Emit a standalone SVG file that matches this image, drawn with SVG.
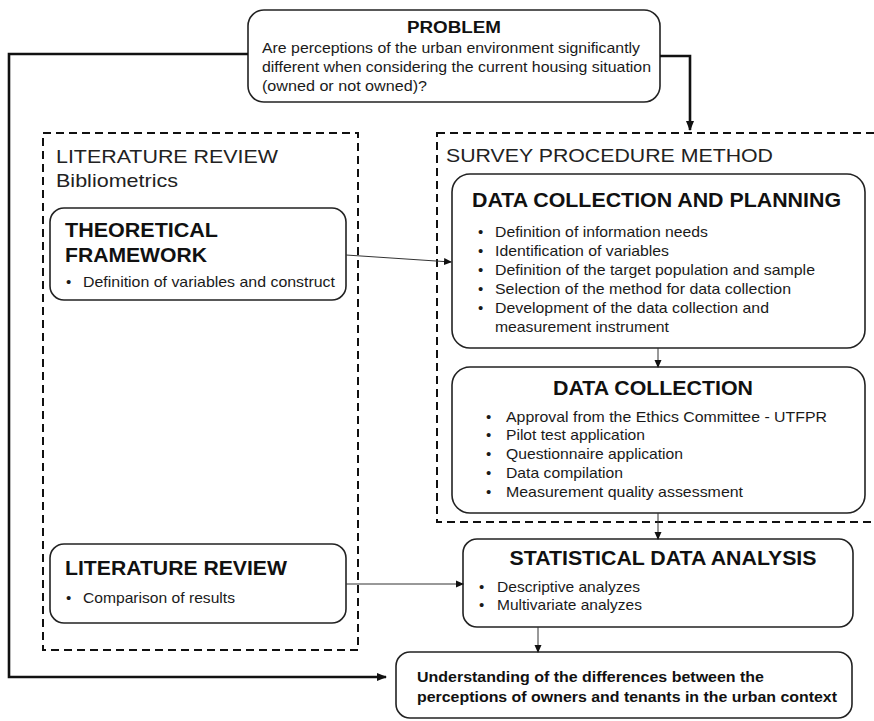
<svg xmlns="http://www.w3.org/2000/svg" width="874" height="721" viewBox="0 0 874 721">
<defs>
<style>
.box{fill:#fff;stroke:#222;stroke-width:1.6}
.dash{fill:none;stroke:#111;stroke-width:2;stroke-dasharray:8 5}
.t{font-family:"Liberation Sans",Arial,sans-serif;fill:#1a1a1a}
.b{font-size:15px}
.h{font-weight:bold;font-size:20px;fill:#111}
.sec{font-size:19px;fill:#222}
.bb{font-weight:bold;font-size:15px;fill:#111}
.thick{fill:none;stroke:#111;stroke-width:2.6}
.thin{fill:none;stroke:#333;stroke-width:1}
</style>
<marker id="ah" markerWidth="8" markerHeight="8" refX="7" refY="4" orient="auto" markerUnits="userSpaceOnUse">
<path d="M0,0.5 L8,4 L0,7.5 Z" fill="#111"/>
</marker>
<marker id="ahb" markerWidth="10" markerHeight="10" refX="9" refY="5" orient="auto" markerUnits="userSpaceOnUse">
<path d="M0,1 L10,5 L0,9 Z" fill="#111"/>
</marker>
</defs>
<rect width="874" height="721" fill="#fff"/>

<g id="literature-review-group">
<rect class="dash" x="43" y="133" width="315" height="517"/>
<text class="t sec" x="56" y="163" textLength="222" lengthAdjust="spacingAndGlyphs">LITERATURE REVIEW</text>
<text class="t sec" x="56" y="187" textLength="122" lengthAdjust="spacingAndGlyphs">Bibliometrics</text>
</g>

<g id="survey-procedure-group">
<rect class="dash" x="437" y="133" width="445" height="389"/>
<text class="t sec" x="446" y="162" textLength="327" lengthAdjust="spacingAndGlyphs">SURVEY PROCEDURE METHOD</text>
</g>

<g id="problem">
<rect class="box" x="248" y="10" width="412" height="92" rx="16"/>
<text class="t" x="454" y="33" text-anchor="middle" textLength="94" lengthAdjust="spacingAndGlyphs" style="font-size:16px;font-weight:bold;fill:#111">PROBLEM</text>
<text class="t b" x="262" y="53" textLength="378" lengthAdjust="spacingAndGlyphs">Are perceptions of the urban environment significantly</text>
<text class="t b" x="262" y="72" textLength="389" lengthAdjust="spacingAndGlyphs">different when considering the current housing situation</text>
<text class="t b" x="262" y="91" textLength="165" lengthAdjust="spacingAndGlyphs">(owned or not owned)?</text>
</g>

<g id="theoretical-framework">
<rect class="box" x="50" y="208" width="296" height="92" rx="14"/>
<text class="t h" x="65" y="237" textLength="153" lengthAdjust="spacingAndGlyphs">THEORETICAL</text>
<text class="t h" x="65" y="262" textLength="142" lengthAdjust="spacingAndGlyphs">FRAMEWORK</text>
<text class="t b" x="66" y="287">•</text>
<text class="t b" x="83" y="287" textLength="252" lengthAdjust="spacingAndGlyphs">Definition of variables and construct</text>
</g>

<g id="literature-review">
<rect class="box" x="50" y="544" width="296" height="79" rx="14"/>
<text class="t h" x="65" y="575" textLength="222" lengthAdjust="spacingAndGlyphs">LITERATURE REVIEW</text>
<text class="t b" x="66" y="603">•</text>
<text class="t b" x="83" y="603" textLength="152" lengthAdjust="spacingAndGlyphs">Comparison of results</text>
</g>

<g id="data-collection-planning">
<rect class="box" x="452" y="174" width="413" height="174" rx="18"/>
<text class="t h" x="472" y="207" textLength="369" lengthAdjust="spacingAndGlyphs">DATA COLLECTION AND PLANNING</text>
<text class="t b" x="478" y="237">•</text>
<text class="t b" x="495" y="237" textLength="213" lengthAdjust="spacingAndGlyphs">Definition of information needs</text>
<text class="t b" x="478" y="256">•</text>
<text class="t b" x="495" y="256" textLength="174" lengthAdjust="spacingAndGlyphs">Identification of variables</text>
<text class="t b" x="478" y="275">•</text>
<text class="t b" x="495" y="275" textLength="320" lengthAdjust="spacingAndGlyphs">Definition of the target population and sample</text>
<text class="t b" x="478" y="294">•</text>
<text class="t b" x="495" y="294" textLength="296" lengthAdjust="spacingAndGlyphs">Selection of the method for data collection</text>
<text class="t b" x="478" y="313">•</text>
<text class="t b" x="495" y="313" textLength="274" lengthAdjust="spacingAndGlyphs">Development of the data collection and</text>
<text class="t b" x="495" y="332" textLength="174" lengthAdjust="spacingAndGlyphs">measurement instrument</text>
</g>

<g id="data-collection">
<rect class="box" x="452" y="367" width="413" height="146" rx="18"/>
<text class="t h" x="653" y="395" text-anchor="middle" textLength="200" lengthAdjust="spacingAndGlyphs">DATA COLLECTION</text>
<text class="t b" x="486" y="422">•</text>
<text class="t b" x="506" y="422" textLength="321" lengthAdjust="spacingAndGlyphs">Approval from the Ethics Committee - UTFPR</text>
<text class="t b" x="486" y="440">•</text>
<text class="t b" x="506" y="440" textLength="139" lengthAdjust="spacingAndGlyphs">Pilot test application</text>
<text class="t b" x="486" y="459">•</text>
<text class="t b" x="506" y="459" textLength="177" lengthAdjust="spacingAndGlyphs">Questionnaire application</text>
<text class="t b" x="486" y="478">•</text>
<text class="t b" x="506" y="478" textLength="117" lengthAdjust="spacingAndGlyphs">Data compilation</text>
<text class="t b" x="486" y="497">•</text>
<text class="t b" x="506" y="497" textLength="237" lengthAdjust="spacingAndGlyphs">Measurement quality assessment</text>
</g>

<g id="statistical-analysis">
<rect class="box" x="463" y="539" width="390" height="88" rx="14"/>
<text class="t h" x="663" y="565" text-anchor="middle" textLength="307" lengthAdjust="spacingAndGlyphs">STATISTICAL DATA ANALYSIS</text>
<text class="t b" x="479" y="592">•</text>
<text class="t b" x="497" y="592" textLength="143" lengthAdjust="spacingAndGlyphs">Descriptive analyzes</text>
<text class="t b" x="479" y="610">•</text>
<text class="t b" x="497" y="610" textLength="145" lengthAdjust="spacingAndGlyphs">Multivariate analyzes</text>
</g>

<g id="understanding">
<rect class="box" x="396" y="652" width="456" height="66" rx="14"/>
<text class="t bb" x="417" y="682" textLength="347" lengthAdjust="spacingAndGlyphs">Understanding of the differences between the</text>
<text class="t bb" x="417" y="702" textLength="420" lengthAdjust="spacingAndGlyphs">perceptions of owners and tenants in the urban context</text>
</g>

<g id="connectors">
<path class="thick" d="M248,54 H9 V677 H386" marker-end="url(#ahb)"/>
<path class="thick" d="M660,56 H690 V130" marker-end="url(#ahb)"/>
<path class="thin" d="M346,255 L451,262" marker-end="url(#ah)"/>
<path class="thin" d="M658,348 V367" marker-end="url(#ah)"/>
<path class="thin" d="M658,513 V539" marker-end="url(#ah)"/>
<path class="thin" d="M346,584 H463" marker-end="url(#ah)"/>
<path class="thin" d="M538,627 V652" marker-end="url(#ah)"/>
</g>
</svg>
